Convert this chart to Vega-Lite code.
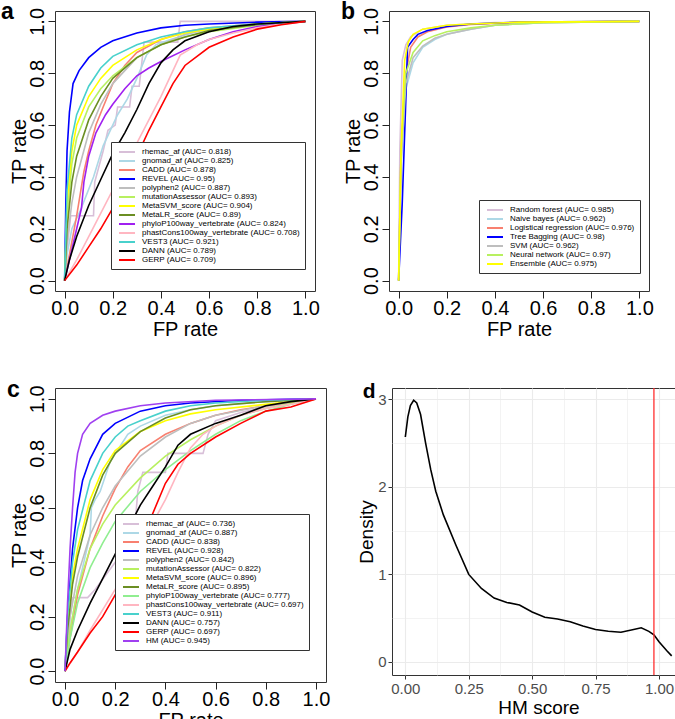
{
 "$schema": "https://vega.github.io/schema/vega-lite/v6.json",
 "padding": 0,
 "background": "white",
 "config": {
  "font": "Liberation Sans",
  "view": {"stroke": "#333333", "strokeWidth": 1},
  "axis": {"grid": false, "domain": false, "tickColor": "#222222", "tickSize": 7, "labelFontSize": 20, "titleFontSize": 20, "titleFontWeight": "normal", "labelColor": "black", "titleColor": "black", "labelFlush": false, "labelOverlap": false},
  "axisY": {"labelAngle": -90, "labelAlign": "center", "labelBaseline": "bottom", "labelPadding": 1, "titlePadding": -2},
  "axisX": {"labelPadding": 0, "titlePadding": 1},
  "title": {"fontSize": 23, "fontWeight": "bold", "anchor": "start", "frame": "bounds", "color": "black"},
  "legend": {"title": null, "orient": "none", "symbolType": "M-2,0H2", "symbolSize": 64, "symbolStrokeWidth": 2, "labelFontSize": 8, "rowPadding": 0, "padding": 5, "strokeColor": "#333333", "fillColor": "white", "symbolOffset": 6, "labelOffset": 10, "labelLimit": 400}
 },
 "datasets": {
  "a": [
   {"m":"rhemac_af","x":0,"y":0},{"m":"rhemac_af","x":0.01,"y":0.12},{"m":"rhemac_af","x":0.025,"y":0.25},{"m":"rhemac_af","x":0.12,"y":0.25},{"m":"rhemac_af","x":0.125,"y":0.38},{"m":"rhemac_af","x":0.16,"y":0.5},{"m":"rhemac_af","x":0.18,"y":0.58},{"m":"rhemac_af","x":0.21,"y":0.6},{"m":"rhemac_af","x":0.22,"y":0.67},{"m":"rhemac_af","x":0.27,"y":0.67},{"m":"rhemac_af","x":0.28,"y":0.75},{"m":"rhemac_af","x":0.31,"y":0.75},{"m":"rhemac_af","x":0.33,"y":0.92},{"m":"rhemac_af","x":0.47,"y":0.92},{"m":"rhemac_af","x":0.48,"y":1},{"m":"rhemac_af","x":1,"y":1},
   {"m":"gnomad_af","x":0,"y":0},{"m":"gnomad_af","x":0.01,"y":0.1},{"m":"gnomad_af","x":0.03,"y":0.2},{"m":"gnomad_af","x":0.065,"y":0.27},{"m":"gnomad_af","x":0.12,"y":0.4},{"m":"gnomad_af","x":0.16,"y":0.52},{"m":"gnomad_af","x":0.22,"y":0.64},{"m":"gnomad_af","x":0.26,"y":0.7},{"m":"gnomad_af","x":0.3,"y":0.78},{"m":"gnomad_af","x":0.34,"y":0.87},{"m":"gnomad_af","x":0.38,"y":0.91},{"m":"gnomad_af","x":0.44,"y":0.93},{"m":"gnomad_af","x":0.58,"y":0.97},{"m":"gnomad_af","x":0.8,"y":0.99},{"m":"gnomad_af","x":1,"y":1},
   {"m":"CADD","x":0,"y":0},{"m":"CADD","x":0.02,"y":0.1},{"m":"CADD","x":0.05,"y":0.25},{"m":"CADD","x":0.08,"y":0.42},{"m":"CADD","x":0.1,"y":0.5},{"m":"CADD","x":0.13,"y":0.6},{"m":"CADD","x":0.16,"y":0.67},{"m":"CADD","x":0.2,"y":0.76},{"m":"CADD","x":0.25,"y":0.83},{"m":"CADD","x":0.3,"y":0.88},{"m":"CADD","x":0.4,"y":0.93},{"m":"CADD","x":0.5,"y":0.96},{"m":"CADD","x":0.6,"y":0.975},{"m":"CADD","x":0.8,"y":0.99},{"m":"CADD","x":1,"y":1},
   {"m":"REVEL","x":0,"y":0},{"m":"REVEL","x":0.005,"y":0.3},{"m":"REVEL","x":0.01,"y":0.5},{"m":"REVEL","x":0.02,"y":0.65},{"m":"REVEL","x":0.035,"y":0.76},{"m":"REVEL","x":0.06,"y":0.81},{"m":"REVEL","x":0.1,"y":0.86},{"m":"REVEL","x":0.15,"y":0.9},{"m":"REVEL","x":0.2,"y":0.925},{"m":"REVEL","x":0.3,"y":0.955},{"m":"REVEL","x":0.4,"y":0.975},{"m":"REVEL","x":0.5,"y":0.985},{"m":"REVEL","x":0.6,"y":0.99},{"m":"REVEL","x":0.8,"y":0.997},{"m":"REVEL","x":1,"y":1},
   {"m":"polyphen2","x":0,"y":0},{"m":"polyphen2","x":0.01,"y":0.15},{"m":"polyphen2","x":0.03,"y":0.3},{"m":"polyphen2","x":0.05,"y":0.4},{"m":"polyphen2","x":0.1,"y":0.57},{"m":"polyphen2","x":0.15,"y":0.68},{"m":"polyphen2","x":0.2,"y":0.76},{"m":"polyphen2","x":0.3,"y":0.86},{"m":"polyphen2","x":0.4,"y":0.91},{"m":"polyphen2","x":0.5,"y":0.95},{"m":"polyphen2","x":0.6,"y":0.97},{"m":"polyphen2","x":0.8,"y":0.99},{"m":"polyphen2","x":1,"y":1},
   {"m":"mutationAssessor","x":0,"y":0},{"m":"mutationAssessor","x":0.01,"y":0.25},{"m":"mutationAssessor","x":0.03,"y":0.45},{"m":"mutationAssessor","x":0.05,"y":0.55},{"m":"mutationAssessor","x":0.1,"y":0.67},{"m":"mutationAssessor","x":0.15,"y":0.74},{"m":"mutationAssessor","x":0.2,"y":0.79},{"m":"mutationAssessor","x":0.3,"y":0.86},{"m":"mutationAssessor","x":0.4,"y":0.91},{"m":"mutationAssessor","x":0.5,"y":0.94},{"m":"mutationAssessor","x":0.6,"y":0.96},{"m":"mutationAssessor","x":0.8,"y":0.985},{"m":"mutationAssessor","x":1,"y":1},
   {"m":"MetaSVM_score","x":0,"y":0},{"m":"MetaSVM_score","x":0.01,"y":0.3},{"m":"MetaSVM_score","x":0.03,"y":0.5},{"m":"MetaSVM_score","x":0.05,"y":0.6},{"m":"MetaSVM_score","x":0.1,"y":0.71},{"m":"MetaSVM_score","x":0.15,"y":0.78},{"m":"MetaSVM_score","x":0.2,"y":0.83},{"m":"MetaSVM_score","x":0.3,"y":0.89},{"m":"MetaSVM_score","x":0.4,"y":0.93},{"m":"MetaSVM_score","x":0.5,"y":0.955},{"m":"MetaSVM_score","x":0.6,"y":0.97},{"m":"MetaSVM_score","x":0.8,"y":0.99},{"m":"MetaSVM_score","x":1,"y":1},
   {"m":"MetaLR_score","x":0,"y":0},{"m":"MetaLR_score","x":0.01,"y":0.2},{"m":"MetaLR_score","x":0.03,"y":0.38},{"m":"MetaLR_score","x":0.05,"y":0.48},{"m":"MetaLR_score","x":0.1,"y":0.62},{"m":"MetaLR_score","x":0.15,"y":0.71},{"m":"MetaLR_score","x":0.2,"y":0.78},{"m":"MetaLR_score","x":0.3,"y":0.86},{"m":"MetaLR_score","x":0.4,"y":0.91},{"m":"MetaLR_score","x":0.5,"y":0.94},{"m":"MetaLR_score","x":0.6,"y":0.965},{"m":"MetaLR_score","x":0.8,"y":0.988},{"m":"MetaLR_score","x":1,"y":1},
   {"m":"phyloP100way_vertebrate","x":0,"y":0},{"m":"phyloP100way_vertebrate","x":0.02,"y":0.08},{"m":"phyloP100way_vertebrate","x":0.05,"y":0.2},{"m":"phyloP100way_vertebrate","x":0.07,"y":0.28},{"m":"phyloP100way_vertebrate","x":0.08,"y":0.38},{"m":"phyloP100way_vertebrate","x":0.1,"y":0.48},{"m":"phyloP100way_vertebrate","x":0.13,"y":0.57},{"m":"phyloP100way_vertebrate","x":0.17,"y":0.64},{"m":"phyloP100way_vertebrate","x":0.2,"y":0.68},{"m":"phyloP100way_vertebrate","x":0.25,"y":0.74},{"m":"phyloP100way_vertebrate","x":0.3,"y":0.79},{"m":"phyloP100way_vertebrate","x":0.35,"y":0.82},{"m":"phyloP100way_vertebrate","x":0.4,"y":0.845},{"m":"phyloP100way_vertebrate","x":0.5,"y":0.89},{"m":"phyloP100way_vertebrate","x":0.6,"y":0.93},{"m":"phyloP100way_vertebrate","x":0.7,"y":0.96},{"m":"phyloP100way_vertebrate","x":0.8,"y":0.98},{"m":"phyloP100way_vertebrate","x":1,"y":1},
   {"m":"phastCons100way_vertebrate","x":0,"y":0},{"m":"phastCons100way_vertebrate","x":0.05,"y":0.08},{"m":"phastCons100way_vertebrate","x":0.1,"y":0.17},{"m":"phastCons100way_vertebrate","x":0.2,"y":0.35},{"m":"phastCons100way_vertebrate","x":0.3,"y":0.53},{"m":"phastCons100way_vertebrate","x":0.4,"y":0.71},{"m":"phastCons100way_vertebrate","x":0.48,"y":0.87},{"m":"phastCons100way_vertebrate","x":0.55,"y":0.91},{"m":"phastCons100way_vertebrate","x":0.6,"y":0.93},{"m":"phastCons100way_vertebrate","x":0.7,"y":0.955},{"m":"phastCons100way_vertebrate","x":0.8,"y":0.975},{"m":"phastCons100way_vertebrate","x":0.9,"y":0.99},{"m":"phastCons100way_vertebrate","x":1,"y":1},
   {"m":"VEST3","x":0,"y":0},{"m":"VEST3","x":0.01,"y":0.35},{"m":"VEST3","x":0.03,"y":0.55},{"m":"VEST3","x":0.05,"y":0.64},{"m":"VEST3","x":0.1,"y":0.75},{"m":"VEST3","x":0.15,"y":0.82},{"m":"VEST3","x":0.2,"y":0.865},{"m":"VEST3","x":0.3,"y":0.91},{"m":"VEST3","x":0.4,"y":0.94},{"m":"VEST3","x":0.5,"y":0.96},{"m":"VEST3","x":0.6,"y":0.975},{"m":"VEST3","x":0.8,"y":0.99},{"m":"VEST3","x":1,"y":1},
   {"m":"DANN","x":0,"y":0},{"m":"DANN","x":0.02,"y":0.08},{"m":"DANN","x":0.05,"y":0.17},{"m":"DANN","x":0.1,"y":0.29},{"m":"DANN","x":0.15,"y":0.39},{"m":"DANN","x":0.2,"y":0.49},{"m":"DANN","x":0.25,"y":0.57},{"m":"DANN","x":0.3,"y":0.66},{"m":"DANN","x":0.35,"y":0.76},{"m":"DANN","x":0.4,"y":0.84},{"m":"DANN","x":0.45,"y":0.89},{"m":"DANN","x":0.5,"y":0.925},{"m":"DANN","x":0.6,"y":0.96},{"m":"DANN","x":0.7,"y":0.98},{"m":"DANN","x":0.8,"y":0.99},{"m":"DANN","x":1,"y":1},
   {"m":"GERP","x":0,"y":0},{"m":"GERP","x":0.05,"y":0.06},{"m":"GERP","x":0.1,"y":0.13},{"m":"GERP","x":0.15,"y":0.2},{"m":"GERP","x":0.2,"y":0.28},{"m":"GERP","x":0.25,"y":0.38},{"m":"GERP","x":0.3,"y":0.48},{"m":"GERP","x":0.35,"y":0.58},{"m":"GERP","x":0.4,"y":0.67},{"m":"GERP","x":0.45,"y":0.76},{"m":"GERP","x":0.5,"y":0.83},{"m":"GERP","x":0.6,"y":0.9},{"m":"GERP","x":0.7,"y":0.94},{"m":"GERP","x":0.8,"y":0.97},{"m":"GERP","x":0.9,"y":0.987},{"m":"GERP","x":1,"y":1}
  ],
  "b": [
   {"m":"rf","x":0,"y":0},{"m":"rf","x":0.005,"y":0.5},{"m":"rf","x":0.015,"y":0.85},{"m":"rf","x":0.03,"y":0.91},{"m":"rf","x":0.05,"y":0.94},{"m":"rf","x":0.1,"y":0.97},{"m":"rf","x":0.2,"y":0.985},{"m":"rf","x":0.4,"y":0.995},{"m":"rf","x":1,"y":1},
   {"m":"nb","x":0,"y":0},{"m":"nb","x":0.01,"y":0.45},{"m":"nb","x":0.03,"y":0.74},{"m":"nb","x":0.06,"y":0.84},{"m":"nb","x":0.1,"y":0.9},{"m":"nb","x":0.15,"y":0.93},{"m":"nb","x":0.2,"y":0.95},{"m":"nb","x":0.3,"y":0.97},{"m":"nb","x":0.4,"y":0.985},{"m":"nb","x":0.6,"y":0.995},{"m":"nb","x":1,"y":1},
   {"m":"lr","x":0,"y":0},{"m":"lr","x":0.01,"y":0.5},{"m":"lr","x":0.03,"y":0.8},{"m":"lr","x":0.05,"y":0.9},{"m":"lr","x":0.08,"y":0.94},{"m":"lr","x":0.12,"y":0.96},{"m":"lr","x":0.2,"y":0.978},{"m":"lr","x":0.3,"y":0.988},{"m":"lr","x":0.5,"y":0.996},{"m":"lr","x":1,"y":1},
   {"m":"tb","x":0,"y":0},{"m":"tb","x":0.015,"y":0.3},{"m":"tb","x":0.03,"y":0.7},{"m":"tb","x":0.037,"y":0.9},{"m":"tb","x":0.06,"y":0.93},{"m":"tb","x":0.08,"y":0.95},{"m":"tb","x":0.12,"y":0.965},{"m":"tb","x":0.2,"y":0.98},{"m":"tb","x":0.3,"y":0.99},{"m":"tb","x":0.5,"y":0.997},{"m":"tb","x":1,"y":1},
   {"m":"svm","x":0,"y":0},{"m":"svm","x":0.01,"y":0.45},{"m":"svm","x":0.03,"y":0.76},{"m":"svm","x":0.06,"y":0.86},{"m":"svm","x":0.1,"y":0.905},{"m":"svm","x":0.15,"y":0.935},{"m":"svm","x":0.2,"y":0.95},{"m":"svm","x":0.3,"y":0.97},{"m":"svm","x":0.4,"y":0.985},{"m":"svm","x":0.6,"y":0.995},{"m":"svm","x":1,"y":1},
   {"m":"nn","x":0,"y":0},{"m":"nn","x":0.01,"y":0.5},{"m":"nn","x":0.03,"y":0.8},{"m":"nn","x":0.06,"y":0.88},{"m":"nn","x":0.1,"y":0.925},{"m":"nn","x":0.15,"y":0.945},{"m":"nn","x":0.2,"y":0.96},{"m":"nn","x":0.3,"y":0.975},{"m":"nn","x":0.4,"y":0.985},{"m":"nn","x":0.6,"y":0.995},{"m":"nn","x":1,"y":1},
   {"m":"ens","x":0,"y":0},{"m":"ens","x":0.01,"y":0.5},{"m":"ens","x":0.025,"y":0.85},{"m":"ens","x":0.04,"y":0.92},{"m":"ens","x":0.06,"y":0.95},{"m":"ens","x":0.1,"y":0.97},{"m":"ens","x":0.2,"y":0.985},{"m":"ens","x":0.3,"y":0.99},{"m":"ens","x":0.5,"y":0.997},{"m":"ens","x":1,"y":1}
  ],
  "c": [
   {"m":"rhemac_af","x":0,"y":0},{"m":"rhemac_af","x":0.02,"y":0.2},{"m":"rhemac_af","x":0.03,"y":0.27},{"m":"rhemac_af","x":0.09,"y":0.27},{"m":"rhemac_af","x":0.12,"y":0.3},{"m":"rhemac_af","x":0.2,"y":0.4},{"m":"rhemac_af","x":0.25,"y":0.46},{"m":"rhemac_af","x":0.28,"y":0.55},{"m":"rhemac_af","x":0.29,"y":0.66},{"m":"rhemac_af","x":0.31,"y":0.73},{"m":"rhemac_af","x":0.4,"y":0.73},{"m":"rhemac_af","x":0.41,"y":0.8},{"m":"rhemac_af","x":0.55,"y":0.8},{"m":"rhemac_af","x":0.57,"y":0.87},{"m":"rhemac_af","x":0.6,"y":0.92},{"m":"rhemac_af","x":0.7,"y":0.95},{"m":"rhemac_af","x":0.8,"y":0.97},{"m":"rhemac_af","x":1,"y":1},
   {"m":"gnomad_af","x":0,"y":0},{"m":"gnomad_af","x":0.02,"y":0.15},{"m":"gnomad_af","x":0.05,"y":0.3},{"m":"gnomad_af","x":0.1,"y":0.5},{"m":"gnomad_af","x":0.105,"y":0.6},{"m":"gnomad_af","x":0.12,"y":0.63},{"m":"gnomad_af","x":0.14,"y":0.66},{"m":"gnomad_af","x":0.18,"y":0.77},{"m":"gnomad_af","x":0.25,"y":0.87},{"m":"gnomad_af","x":0.3,"y":0.9},{"m":"gnomad_af","x":0.4,"y":0.94},{"m":"gnomad_af","x":0.5,"y":0.96},{"m":"gnomad_af","x":0.6,"y":0.975},{"m":"gnomad_af","x":0.8,"y":0.99},{"m":"gnomad_af","x":1,"y":1},
   {"m":"CADD","x":0,"y":0},{"m":"CADD","x":0.02,"y":0.12},{"m":"CADD","x":0.05,"y":0.28},{"m":"CADD","x":0.1,"y":0.45},{"m":"CADD","x":0.15,"y":0.57},{"m":"CADD","x":0.2,"y":0.67},{"m":"CADD","x":0.25,"y":0.75},{"m":"CADD","x":0.3,"y":0.81},{"m":"CADD","x":0.4,"y":0.87},{"m":"CADD","x":0.5,"y":0.91},{"m":"CADD","x":0.6,"y":0.94},{"m":"CADD","x":0.7,"y":0.96},{"m":"CADD","x":0.8,"y":0.975},{"m":"CADD","x":1,"y":1},
   {"m":"REVEL","x":0,"y":0},{"m":"REVEL","x":0.01,"y":0.2},{"m":"REVEL","x":0.03,"y":0.45},{"m":"REVEL","x":0.05,"y":0.6},{"m":"REVEL","x":0.07,"y":0.7},{"m":"REVEL","x":0.1,"y":0.78},{"m":"REVEL","x":0.15,"y":0.87},{"m":"REVEL","x":0.2,"y":0.91},{"m":"REVEL","x":0.3,"y":0.955},{"m":"REVEL","x":0.4,"y":0.975},{"m":"REVEL","x":0.5,"y":0.985},{"m":"REVEL","x":0.7,"y":0.995},{"m":"REVEL","x":1,"y":1},
   {"m":"polyphen2","x":0,"y":0},{"m":"polyphen2","x":0.02,"y":0.2},{"m":"polyphen2","x":0.05,"y":0.35},{"m":"polyphen2","x":0.1,"y":0.5},{"m":"polyphen2","x":0.15,"y":0.6},{"m":"polyphen2","x":0.2,"y":0.68},{"m":"polyphen2","x":0.3,"y":0.79},{"m":"polyphen2","x":0.4,"y":0.86},{"m":"polyphen2","x":0.5,"y":0.91},{"m":"polyphen2","x":0.6,"y":0.94},{"m":"polyphen2","x":0.8,"y":0.975},{"m":"polyphen2","x":1,"y":1},
   {"m":"mutationAssessor","x":0,"y":0},{"m":"mutationAssessor","x":0.02,"y":0.15},{"m":"mutationAssessor","x":0.05,"y":0.3},{"m":"mutationAssessor","x":0.1,"y":0.45},{"m":"mutationAssessor","x":0.15,"y":0.54},{"m":"mutationAssessor","x":0.2,"y":0.61},{"m":"mutationAssessor","x":0.3,"y":0.71},{"m":"mutationAssessor","x":0.4,"y":0.79},{"m":"mutationAssessor","x":0.5,"y":0.85},{"m":"mutationAssessor","x":0.6,"y":0.9},{"m":"mutationAssessor","x":0.7,"y":0.94},{"m":"mutationAssessor","x":0.8,"y":0.965},{"m":"mutationAssessor","x":1,"y":1},
   {"m":"MetaSVM_score","x":0,"y":0},{"m":"MetaSVM_score","x":0.01,"y":0.18},{"m":"MetaSVM_score","x":0.03,"y":0.35},{"m":"MetaSVM_score","x":0.05,"y":0.45},{"m":"MetaSVM_score","x":0.1,"y":0.63},{"m":"MetaSVM_score","x":0.15,"y":0.74},{"m":"MetaSVM_score","x":0.2,"y":0.81},{"m":"MetaSVM_score","x":0.3,"y":0.88},{"m":"MetaSVM_score","x":0.4,"y":0.92},{"m":"MetaSVM_score","x":0.5,"y":0.945},{"m":"MetaSVM_score","x":0.6,"y":0.96},{"m":"MetaSVM_score","x":0.8,"y":0.98},{"m":"MetaSVM_score","x":1,"y":1},
   {"m":"MetaLR_score","x":0,"y":0},{"m":"MetaLR_score","x":0.01,"y":0.15},{"m":"MetaLR_score","x":0.03,"y":0.32},{"m":"MetaLR_score","x":0.05,"y":0.42},{"m":"MetaLR_score","x":0.1,"y":0.6},{"m":"MetaLR_score","x":0.15,"y":0.72},{"m":"MetaLR_score","x":0.2,"y":0.8},{"m":"MetaLR_score","x":0.3,"y":0.88},{"m":"MetaLR_score","x":0.4,"y":0.93},{"m":"MetaLR_score","x":0.5,"y":0.96},{"m":"MetaLR_score","x":0.6,"y":0.975},{"m":"MetaLR_score","x":0.8,"y":0.99},{"m":"MetaLR_score","x":1,"y":1},
   {"m":"phyloP100way_vertebrate","x":0,"y":0},{"m":"phyloP100way_vertebrate","x":0.02,"y":0.12},{"m":"phyloP100way_vertebrate","x":0.05,"y":0.25},{"m":"phyloP100way_vertebrate","x":0.1,"y":0.38},{"m":"phyloP100way_vertebrate","x":0.15,"y":0.47},{"m":"phyloP100way_vertebrate","x":0.2,"y":0.55},{"m":"phyloP100way_vertebrate","x":0.3,"y":0.66},{"m":"phyloP100way_vertebrate","x":0.4,"y":0.74},{"m":"phyloP100way_vertebrate","x":0.5,"y":0.81},{"m":"phyloP100way_vertebrate","x":0.6,"y":0.87},{"m":"phyloP100way_vertebrate","x":0.7,"y":0.92},{"m":"phyloP100way_vertebrate","x":0.8,"y":0.955},{"m":"phyloP100way_vertebrate","x":0.9,"y":0.98},{"m":"phyloP100way_vertebrate","x":1,"y":1},
   {"m":"phastCons100way_vertebrate","x":0,"y":0},{"m":"phastCons100way_vertebrate","x":0.05,"y":0.07},{"m":"phastCons100way_vertebrate","x":0.1,"y":0.15},{"m":"phastCons100way_vertebrate","x":0.2,"y":0.3},{"m":"phastCons100way_vertebrate","x":0.3,"y":0.46},{"m":"phastCons100way_vertebrate","x":0.4,"y":0.63},{"m":"phastCons100way_vertebrate","x":0.45,"y":0.73},{"m":"phastCons100way_vertebrate","x":0.5,"y":0.82},{"m":"phastCons100way_vertebrate","x":0.55,"y":0.87},{"m":"phastCons100way_vertebrate","x":0.6,"y":0.9},{"m":"phastCons100way_vertebrate","x":0.7,"y":0.94},{"m":"phastCons100way_vertebrate","x":0.8,"y":0.965},{"m":"phastCons100way_vertebrate","x":0.9,"y":0.98},{"m":"phastCons100way_vertebrate","x":1,"y":1},
   {"m":"VEST3","x":0,"y":0},{"m":"VEST3","x":0.01,"y":0.2},{"m":"VEST3","x":0.03,"y":0.4},{"m":"VEST3","x":0.05,"y":0.52},{"m":"VEST3","x":0.1,"y":0.7},{"m":"VEST3","x":0.15,"y":0.8},{"m":"VEST3","x":0.2,"y":0.86},{"m":"VEST3","x":0.25,"y":0.9},{"m":"VEST3","x":0.3,"y":0.92},{"m":"VEST3","x":0.4,"y":0.955},{"m":"VEST3","x":0.5,"y":0.975},{"m":"VEST3","x":0.6,"y":0.985},{"m":"VEST3","x":0.8,"y":0.995},{"m":"VEST3","x":1,"y":1},
   {"m":"DANN","x":0,"y":0},{"m":"DANN","x":0.02,"y":0.08},{"m":"DANN","x":0.05,"y":0.15},{"m":"DANN","x":0.1,"y":0.25},{"m":"DANN","x":0.15,"y":0.34},{"m":"DANN","x":0.2,"y":0.43},{"m":"DANN","x":0.25,"y":0.52},{"m":"DANN","x":0.3,"y":0.61},{"m":"DANN","x":0.35,"y":0.68},{"m":"DANN","x":0.4,"y":0.75},{"m":"DANN","x":0.45,"y":0.83},{"m":"DANN","x":0.5,"y":0.87},{"m":"DANN","x":0.6,"y":0.91},{"m":"DANN","x":0.7,"y":0.94},{"m":"DANN","x":0.8,"y":0.975},{"m":"DANN","x":0.9,"y":0.99},{"m":"DANN","x":1,"y":1},
   {"m":"GERP","x":0,"y":0},{"m":"GERP","x":0.02,"y":0.03},{"m":"GERP","x":0.05,"y":0.07},{"m":"GERP","x":0.1,"y":0.14},{"m":"GERP","x":0.15,"y":0.2},{"m":"GERP","x":0.2,"y":0.28},{"m":"GERP","x":0.25,"y":0.36},{"m":"GERP","x":0.3,"y":0.46},{"m":"GERP","x":0.35,"y":0.58},{"m":"GERP","x":0.4,"y":0.69},{"m":"GERP","x":0.45,"y":0.76},{"m":"GERP","x":0.5,"y":0.8},{"m":"GERP","x":0.6,"y":0.86},{"m":"GERP","x":0.7,"y":0.91},{"m":"GERP","x":0.8,"y":0.955},{"m":"GERP","x":0.9,"y":0.97},{"m":"GERP","x":1,"y":1},
   {"m":"HM","x":0,"y":0},{"m":"HM","x":0.01,"y":0.25},{"m":"HM","x":0.02,"y":0.45},{"m":"HM","x":0.03,"y":0.6},{"m":"HM","x":0.04,"y":0.73},{"m":"HM","x":0.05,"y":0.8},{"m":"HM","x":0.07,"y":0.87},{"m":"HM","x":0.1,"y":0.91},{"m":"HM","x":0.15,"y":0.94},{"m":"HM","x":0.2,"y":0.955},{"m":"HM","x":0.3,"y":0.975},{"m":"HM","x":0.4,"y":0.985},{"m":"HM","x":0.6,"y":0.995},{"m":"HM","x":1,"y":1}
  ],
  "d": [
   {"x":0,"y":2.57},{"x":0.01,"y":2.8},{"x":0.02,"y":2.93},{"x":0.033,"y":2.99},{"x":0.045,"y":2.96},{"x":0.06,"y":2.83},{"x":0.08,"y":2.5},{"x":0.1,"y":2.2},{"x":0.12,"y":1.95},{"x":0.15,"y":1.68},{"x":0.2,"y":1.33},{"x":0.25,"y":1.0},{"x":0.3,"y":0.84},{"x":0.35,"y":0.73},{"x":0.4,"y":0.68},{"x":0.45,"y":0.65},{"x":0.5,"y":0.57},{"x":0.55,"y":0.51},{"x":0.6,"y":0.49},{"x":0.65,"y":0.46},{"x":0.7,"y":0.41},{"x":0.75,"y":0.37},{"x":0.8,"y":0.35},{"x":0.85,"y":0.34},{"x":0.9,"y":0.37},{"x":0.93,"y":0.39},{"x":0.96,"y":0.35},{"x":0.98,"y":0.31},{"x":1.0,"y":0.23},{"x":1.03,"y":0.13},{"x":1.05,"y":0.07}
  ],
  "thr": [{"x":0.98}]
 },
 "spacing": 38,
 "resolve": {"scale": {"color": "independent"}, "legend": {"color": "independent"}},
 "vconcat": [
  {
   "spacing": 20,
   "resolve": {"scale": {"color": "independent"}, "legend": {"color": "independent"}},
   "hconcat": [
    {
     "width": 260, "height": 280,
     "title": {"text": "a", "dx": -8, "offset": -17},
     "data": {"name": "a"},
     "mark": {"type": "line", "strokeWidth": 1.6},
     "encoding": {
      "x": {"field": "x", "type": "quantitative", "scale": {"domain": [-0.04, 1.04], "nice": false, "zero": false}, "axis": {"values": [0, 0.2, 0.4, 0.6, 0.8, 1], "format": ".1f", "title": "FP rate"}},
      "y": {"field": "y", "type": "quantitative", "scale": {"domain": [-0.04, 1.04], "nice": false, "zero": false}, "axis": {"values": [0, 0.2, 0.4, 0.6, 0.8, 1], "format": ".1f", "title": "TP rate"}},
      "order": [{"field": "x"}, {"field": "y"}],
      "color": {"field": "m", "type": "nominal",
       "scale": {"domain": ["rhemac_af","gnomad_af","CADD","REVEL","polyphen2","mutationAssessor","MetaSVM_score","MetaLR_score","phyloP100way_vertebrate","phastCons100way_vertebrate","VEST3","DANN","GERP"],
                 "range": ["#D8BFD8","#ADD8E6","#F88070","#0000FF","#BEBEBE","#B8F060","#FFFF00","#6B8E23","#A020F0","#FFB6C1","#48D1CC","#000000","#FF0000"]},
       "legend": {"legendX": 56, "legendY": 131,
        "labelExpr": "{'rhemac_af':'rhemac_af (AUC= 0.818)','gnomad_af':'gnomad_af (AUC= 0.825)','CADD':'CADD (AUC= 0.878)','REVEL':'REVEL (AUC= 0.95)','polyphen2':'polyphen2 (AUC= 0.887)','mutationAssessor':'mutationAssessor (AUC= 0.893)','MetaSVM_score':'MetaSVM_score (AUC= 0.904)','MetaLR_score':'MetaLR_score (AUC= 0.89)','phyloP100way_vertebrate':'phyloP100way_vertebrate (AUC= 0.824)','phastCons100way_vertebrate':'phastCons100way_vertebrate (AUC= 0.708)','VEST3':'VEST3 (AUC= 0.921)','DANN':'DANN (AUC= 0.789)','GERP':'GERP (AUC= 0.709)'}[datum.label]"}}
     }
    },
    {
     "width": 260, "height": 280,
     "title": {"text": "b", "dx": -2, "offset": -17},
     "data": {"name": "b"},
     "mark": {"type": "line", "strokeWidth": 1.6},
     "encoding": {
      "x": {"field": "x", "type": "quantitative", "scale": {"domain": [-0.04, 1.04], "nice": false, "zero": false}, "axis": {"values": [0, 0.2, 0.4, 0.6, 0.8, 1], "format": ".1f", "title": "FP rate"}},
      "y": {"field": "y", "type": "quantitative", "scale": {"domain": [-0.04, 1.04], "nice": false, "zero": false}, "axis": {"values": [0, 0.2, 0.4, 0.6, 0.8, 1], "format": ".1f", "title": "TP rate"}},
      "order": [{"field": "x"}, {"field": "y"}],
      "color": {"field": "m", "type": "nominal",
       "scale": {"domain": ["rf","nb","lr","tb","svm","nn","ens"],
                 "range": ["#D8BFD8","#ADD8E6","#F88070","#0000FF","#BEBEBE","#B8F060","#FFFF00"]},
       "legend": {"legendX": 90, "legendY": 189,
        "labelExpr": "{'rf':'Random forest (AUC= 0.985)','nb':'Naive bayes (AUC= 0.962)','lr':'Logistical regression (AUC= 0.976)','tb':'Tree Bagging (AUC= 0.98)','svm':'SVM (AUC= 0.962)','nn':'Neural network (AUC= 0.97)','ens':'Ensemble (AUC= 0.975)'}[datum.label]"}}
     }
    }
   ]
  },
  {
   "spacing": 26,
   "resolve": {"scale": {"color": "independent"}, "legend": {"color": "independent"}},
   "hconcat": [
    {
     "width": 271, "height": 294,
     "title": {"text": "c", "dx": -2, "offset": -17},
     "data": {"name": "c"},
     "mark": {"type": "line", "strokeWidth": 1.6},
     "encoding": {
      "x": {"field": "x", "type": "quantitative", "scale": {"domain": [-0.04, 1.04], "nice": false, "zero": false}, "axis": {"values": [0, 0.2, 0.4, 0.6, 0.8, 1], "format": ".1f", "title": "FP rate"}},
      "y": {"field": "y", "type": "quantitative", "scale": {"domain": [-0.04, 1.04], "nice": false, "zero": false}, "axis": {"values": [0, 0.2, 0.4, 0.6, 0.8, 1], "format": ".1f", "title": "TP rate"}},
      "order": [{"field": "x"}, {"field": "y"}],
      "color": {"field": "m", "type": "nominal",
       "scale": {"domain": ["rhemac_af","gnomad_af","CADD","REVEL","polyphen2","mutationAssessor","MetaSVM_score","MetaLR_score","phyloP100way_vertebrate","phastCons100way_vertebrate","VEST3","DANN","GERP","HM"],
                 "range": ["#D8BFD8","#ADD8E6","#F88070","#0000FF","#BEBEBE","#B8F060","#FFFF00","#6B8E23","#90EE90","#FFB6C1","#48D1CC","#000000","#FF0000","#A040F0"]},
       "legend": {"legendX": 60, "legendY": 126,
        "labelExpr": "{'rhemac_af':'rhemac_af (AUC= 0.736)','gnomad_af':'gnomad_af (AUC= 0.887)','CADD':'CADD (AUC= 0.838)','REVEL':'REVEL (AUC= 0.928)','polyphen2':'polyphen2 (AUC= 0.842)','mutationAssessor':'mutationAssessor (AUC= 0.822)','MetaSVM_score':'MetaSVM_score (AUC= 0.896)','MetaLR_score':'MetaLR_score (AUC= 0.895)','phyloP100way_vertebrate':'phyloP100way_vertebrate (AUC= 0.777)','phastCons100way_vertebrate':'phastCons100way_vertebrate (AUC= 0.697)','VEST3':'VEST3 (AUC= 0.911)','DANN':'DANN (AUC= 0.757)','GERP':'GERP (AUC= 0.697)','HM':'HM (AUC= 0.945)'}[datum.label]"}}
     }
    },
    {
     "width": 293, "height": 287,
     "title": {"text": "d", "dx": 5, "offset": -15, "fontSize": 21},
     "layer": [
      {
       "data": {"name": "d"},
       "mark": {"type": "line", "strokeOpacity": 0},
       "encoding": {
        "x": {"field": "x", "type": "quantitative", "scale": {"domain": [-0.0525, 1.1025], "nice": false, "zero": false}, "axis": {"orient": "bottom", "values": [0.125, 0.375, 0.625, 0.875], "labels": false, "ticks": false, "title": null, "grid": true, "gridColor": "#EBEBEB", "gridWidth": 0.6}},
        "y": {"field": "y", "type": "quantitative", "scale": {"domain": [-0.149, 3.13], "nice": false, "zero": false}, "axis": {"orient": "left", "values": [0.5, 1.5, 2.5], "labels": false, "ticks": false, "title": null, "grid": true, "gridColor": "#EBEBEB", "gridWidth": 0.6}}
       }
      },
      {
       "data": {"name": "d"},
       "mark": {"type": "line", "color": "black", "strokeWidth": 1.6},
       "encoding": {
        "x": {"field": "x", "type": "quantitative", "axis": {"orient": "bottom", "values": [0, 0.25, 0.5, 0.75, 1], "format": ".2f", "title": "HM score", "grid": true, "gridColor": "#EBEBEB", "gridWidth": 1.1, "tickColor": "#333333", "tickSize": 4, "labelColor": "#4D4D4D", "labelFontSize": 15, "titleFontSize": 19, "labelPadding": 2, "titlePadding": 2}},
        "y": {"field": "y", "type": "quantitative", "axis": {"orient": "left", "values": [0, 1, 2, 3], "format": "d", "title": "Density", "grid": true, "gridColor": "#EBEBEB", "gridWidth": 1.1, "tickColor": "#333333", "tickSize": 4, "labelColor": "#4D4D4D", "labelFontSize": 15, "titleFontSize": 19, "labelAngle": 0, "labelAlign": "right", "labelBaseline": "middle", "labelPadding": 2, "titlePadding": 1}}
       }
      },
      {
       "data": {"name": "thr"},
       "mark": {"type": "rule", "color": "#FF3030", "strokeWidth": 1.3},
       "encoding": {"x": {"field": "x", "type": "quantitative", "axis": null}}
      }
     ],
     "resolve": {"axis": {"x": "independent", "y": "independent"}}
    }
   ]
  }
 ]
}
